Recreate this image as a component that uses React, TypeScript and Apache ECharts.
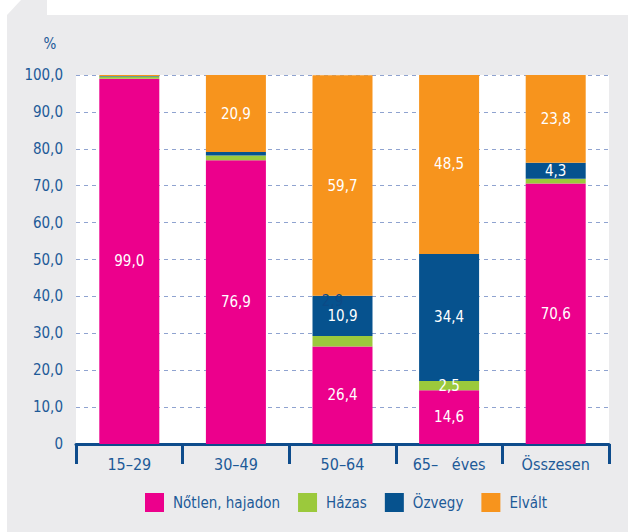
import React, { useEffect, useRef } from "react";
import * as echarts from "echarts";

const categories = ["15–29", "30–49", "50–64", "65–   éves", "Összesen"];
const seriesNames = ["Nőtlen, hajadon", "Házas", "Özvegy", "Elvált"];
const notlen = [99.0, 76.9, 26.4, 14.6, 70.6];
const hazas = [0.6, 1.3, 2.9, 2.5, 1.3];
const ozvegy = [0.1, 0.9, 10.9, 34.4, 4.3];
const elvalt = [0.3, 20.9, 59.7, 48.5, 23.8];
const colors = ["#EC008C", "#9BC93C", "#06528E", "#F7941D"];
const titleText = "2015";

const FONT = "'Liberation Sans Narrow', 'DejaVu Sans Condensed', 'Noto Sans', sans-serif";
const BLUE_TEXT = "#1D5A98";

const fmt = (v: number) => v.toFixed(1).replace(".", ",");

export default function App() {
  const ref = useRef<HTMLDivElement>(null);
  useEffect(() => {
    if (!ref.current) return;
    const chart = echarts.init(ref.current, null, { renderer: "svg" });
    const values = [notlen, hazas, ozvegy, elvalt];
    const series = values.map((arr, si) => ({
      name: seriesNames[si],
      type: "bar",
      stack: "total",
      barWidth: 60,
      itemStyle: { color: colors[si] },
      data: arr.map((v, ci) => {
        const item: any = { value: v };
        if (si === 1 && ci === 2) {
          item.label = { show: true, color: "#0C4A86", offset: [-10, -40] };
        }
        return item;
      }),
      label: {
        show: true,
        position: "inside",
        color: "#FFFFFF",
        fontSize: 15,
        fontFamily: FONT,
        formatter: (p: any) => (p.value >= 2.5 ? fmt(p.value) : ""),
      },
    }));
    chart.setOption({
      animation: false,
      backgroundColor: "#EBEBED",
      textStyle: { fontFamily: FONT },
      graphic: [
        { type: "rect", shape: { x: 47, y: 0, width: 581, height: 15 }, style: { fill: "#FFFFFF" }, silent: true },
        { type: "rect", shape: { x: 0, y: 0, width: 7, height: 532 }, style: { fill: "#FFFFFF" }, silent: true },
        { type: "polygon", shape: { points: [[7, 0], [21, 0], [7, 15]] }, style: { fill: "#FFFFFF" }, silent: true },
        {
          type: "text",
          x: 65,
          y: 4,
          style: {
            text: titleText,
            fontSize: 26,
            fontWeight: "bold",
            fontFamily: FONT,
            fill: "#1D5A98",
            textVerticalAlign: "bottom",
          },
          silent: true,
        },
        {
          type: "text",
          x: 50,
          y: 44,
          style: {
            text: "%",
            fontSize: 15,
            fontFamily: FONT,
            fill: BLUE_TEXT,
            textAlign: "center",
            textVerticalAlign: "middle",
          },
          silent: true,
        },
      ],
      grid: {
        left: 76,
        right: 19,
        top: 75,
        bottom: 88,
        show: true,
        backgroundColor: "#FFFFFF",
        borderWidth: 0,
      },
      legend: {
        bottom: 15,
        left: 140,
        itemWidth: 19,
        itemHeight: 19,
        itemGap: 18,
        icon: "rect",
        textStyle: { color: BLUE_TEXT, fontSize: 15, fontFamily: FONT, padding: [0, 0, 0, 4] },
        data: seriesNames,
      },
      xAxis: {
        type: "category",
        data: categories,
        axisLine: { lineStyle: { color: "#0E4C8C", width: 3 } },
        axisTick: { show: true, length: 20, lineStyle: { color: "#0E4C8C", width: 3 } },
        axisLabel: { color: BLUE_TEXT, fontSize: 16, fontFamily: FONT, margin: 12 },
      },
      yAxis: {
        type: "value",
        min: 0,
        max: 100,
        interval: 10,
        axisLine: { show: false },
        axisTick: { show: false },
        axisLabel: {
          color: BLUE_TEXT,
          fontSize: 15,
          fontFamily: FONT,
          margin: 13,
          formatter: (v: number) => (v === 0 ? "0" : fmt(v)),
        },
        splitLine: { lineStyle: { color: "#8FA3D0", type: [4, 4], width: 1 } },
      },
      series,
    });
    return () => chart.dispose();
  }, []);
  return (
    <div
      ref={ref}
      style={{ position: "absolute", left: 0, top: 0, width: 628, height: 532 }}
    />
  );
}
